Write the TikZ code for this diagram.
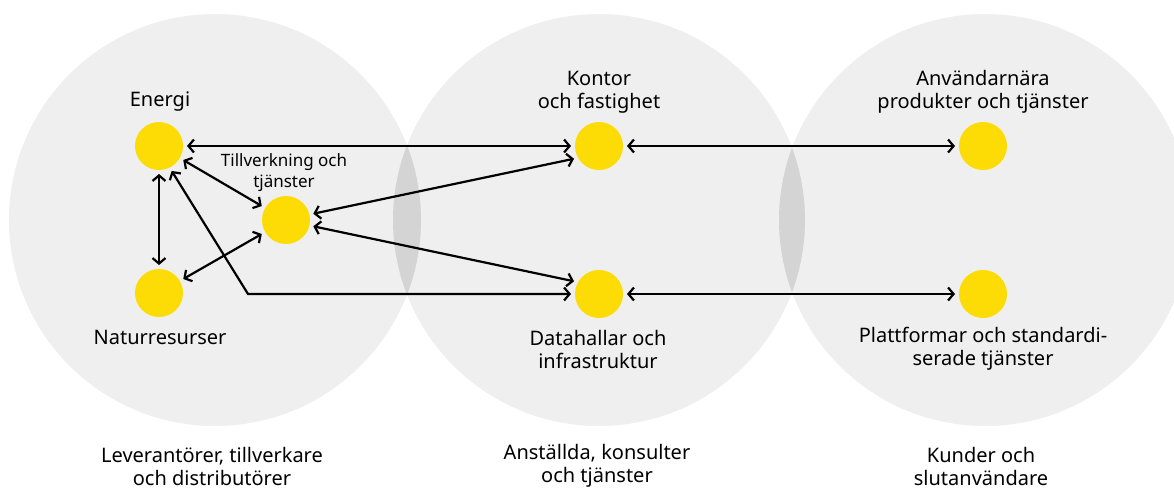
\documentclass[tikz,border=0pt]{standalone}
\usepackage{fontspec}
\setmainfont{Noto Sans}
\usetikzlibrary{arrows.meta}
\definecolor{circ}{HTML}{EFEFEF}
\definecolor{lens}{HTML}{D4D4D4}
\definecolor{dot}{HTML}{FCDC04}
\begin{document}
\begin{tikzpicture}[x=1pt,y=-1pt,
  dotnode/.style={circle,fill=dot,minimum size=48pt,inner sep=0pt,outer sep=4pt},
  lbl/.style={align=center,font=\fontsize{20}{23}\selectfont,inner sep=0pt},
  smalllbl/.style={align=center,font=\fontsize{17}{21}\selectfont,inner sep=0pt},
  conn/.style={line width=2.2pt,{Straight Barb[length=5.5pt,width=13pt]}-{Straight Barb[length=5.5pt,width=13pt]}},
]
\useasboundingbox (0,0) rectangle (1174,488);
% big circles
\fill[circ] (215,220) circle (206pt);
\fill[circ] (599,220) circle (206pt);
\fill[circ] (985,220) circle (206pt);
\begin{scope}
  \clip (215,220) circle (206pt);
  \fill[lens] (599,220) circle (206pt);
\end{scope}
\begin{scope}
  \clip (599,220) circle (206pt);
  \fill[lens] (985,220) circle (206pt);
\end{scope}
% dots
\node[dotnode] (energi) at (159,146) {};
\node[dotnode] (natur) at (159,293) {};
\node[dotnode] (till) at (286,220) {};
\node[dotnode] (kontor) at (599,146) {};
\node[dotnode] (data) at (599,294) {};
\node[dotnode] (anv) at (983,146) {};
\node[dotnode] (platt) at (983,294) {};
\coordinate (corner) at (248,294);
% connectors
\draw[conn] (energi.east) -- (kontor.west);
\draw[conn] (kontor.east) -- (anv.west);
\draw[conn] (data.east) -- (platt.west);
\draw[conn] (energi.south) -- (natur.north);
\draw[conn] (energi.-30) -- (till.150);
\draw[conn] (natur.30) -- (till.210);
\draw[conn] (till.13) -- (kontor.207);
\draw[conn] (till.347) -- (data.153);
\draw[conn] (energi.297) -- (corner) -- (data.west);
% labels
\node[lbl] (lenergi) at (160,102) {Energi};
\node[lbl] (lnatur) at (160,337) {Naturresurser};
\node[smalllbl] (ltill) at (284,173) {Tillverkning och\\tjänster};
\node[lbl] (lkontor) at (599,92) {Kontor\\och fastighet};
\node[lbl] (ldata) at (598,349) {Datahallar och\\infrastruktur};
\node[lbl] (lanv) at (983,92) {Användarnära\\produkter och tjänster};
\node[lbl] (lplatt) at (983,349) {Plattformar och standardi-\\serade tjänster};
\node[lbl] (lleft) at (212,466) {Leverantörer, tillverkare\\och distributörer};
\node[lbl] (lmid) at (597,466) {Anställda, konsulter\\och tjänster};
\node[lbl] (lright) at (981,466) {Kunder och\\slutanvändare};
\end{tikzpicture}
\end{document}
